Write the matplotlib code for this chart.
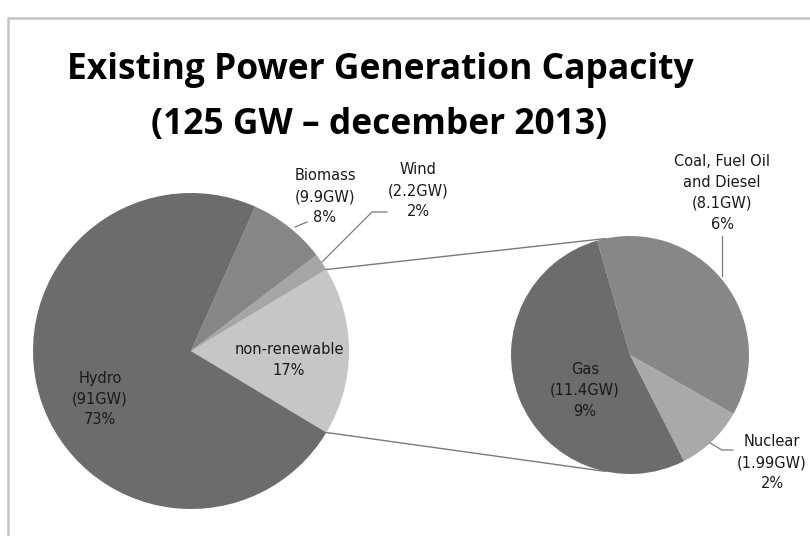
import numpy as np
import matplotlib
matplotlib.use("Agg")
import matplotlib.pyplot as plt
from matplotlib.patches import Rectangle

# data (GW)
main_labels = ["non-renewable", "Wind", "Biomass", "Hydro"]
main_names = ["non-renewable", "Wind\n(2.2GW)", "Biomass\n(9.9GW)", "Hydro\n(91GW)"]
main_gw = [21.49, 2.2, 9.9, 91.0]
main_pct = [17, 2, 8, 73]
main_colors = ["#c6c6c6", "#a6a6a6", "#868686", "#6c6c6c"]

sub_labels = ["Coal, Fuel Oil and Diesel", "Nuclear", "Gas"]
sub_names = ["Coal, Fuel Oil\nand Diesel\n(8.1GW)", "Nuclear\n(1.99GW)", "Gas\n(11.4GW)"]
sub_gw = [8.1, 1.99, 11.4]
sub_pct = [6, 2, 9]
sub_colors = ["#878787", "#a9a9a9", "#6c6c6c"]

W, H = 810, 536
fig = plt.figure(figsize=(W / 100, H / 100), dpi=100)
ax = fig.add_axes([0, 0, 1, 1])

# main pie
c1, r1 = (191, H - 351), 158
share = main_gw[0] / sum(main_gw)
start = -180 * share
ax.pie(main_gw, colors=main_colors, startangle=start, counterclock=True,
       center=c1, radius=r1, wedgeprops=dict(linewidth=0))

# secondary pie
c2, r2 = (630, H - 355), 119
ax.pie(sub_gw, colors=sub_colors, startangle=106, counterclock=False,
       center=c2, radius=r2, wedgeprops=dict(linewidth=0))

# connector lines
a = np.deg2rad(180 * share)
for s in (1, -1):
    p1 = (c1[0] + r1 * np.cos(a), c1[1] + s * r1 * np.sin(a))
    b = np.deg2rad(102)
    p2 = (c2[0] + r2 * np.cos(b), c2[1] + s * r2 * np.sin(b))
    ax.plot([p1[0], p2[0]], [p1[1], p2[1]], color="#7a7a7a", lw=1)

fs = 10.5
ls = 1.5
def lab(x, y, txt):
    ax.text(x, H - y, txt, ha="center", va="center", fontsize=fs,
            linespacing=ls, color="#1a1a1a")

# labels
lab(289, 360, main_names[0] + "\n%d%%" % main_pct[0])
lab(418, 191, main_names[1] + "\n%d%%" % main_pct[1])
lab(325, 197, main_names[2] + "\n%d%%" % main_pct[2])
lab(100, 399, main_names[3] + "\n%d%%" % main_pct[3])
lab(722, 193, sub_names[0] + "\n%d%%" % sub_pct[0])
lab(772, 463, sub_names[1] + "\n%d%%" % sub_pct[1])
lab(585, 390, sub_names[2] + "\n%d%%" % sub_pct[2])

# leader lines
lc = "#7a7a7a"
ax.plot([295, 307], [H - 227, H - 222], color=lc, lw=0.9)
ax.plot([322, 372, 387], [H - 262, H - 212, H - 212], color=lc, lw=0.9)
ax.plot([722, 722], [H - 236, H - 276], color=lc, lw=0.9)
ax.plot([710, 722, 733], [H - 443, H - 450, H - 450], color=lc, lw=0.9)

# title
tf = ["Open Sans", "DejaVu Sans"]
ax.text(380, H - 70, "Existing Power Generation Capacity", ha="center", va="center",
        fontsize=25.5, fontweight="bold", family=tf)
ax.text(379, H - 125, "(125 GW \u2013 december 2013)", ha="center", va="center",
        fontsize=25.5, fontweight="bold", family=tf)

# chart border (only top/left visible)
ax.add_patch(Rectangle((8, -10), W + 20, H - 18 + 10, fill=False,
                       edgecolor="#c4c4c4", lw=1.8))

ax.set_xlim(0, W)
ax.set_ylim(0, H)
ax.set_aspect("equal")
ax.axis("off")

fig.savefig("out.png", dpi=100)
